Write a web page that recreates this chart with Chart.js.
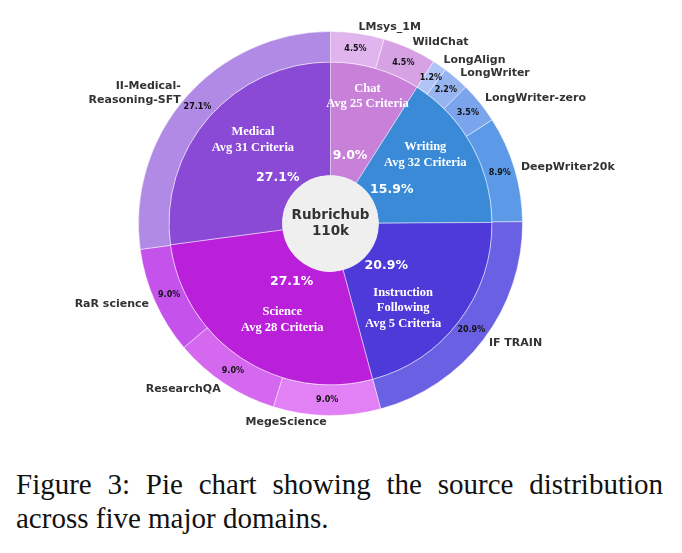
<!DOCTYPE html>
<html>
<head>
<meta charset="utf-8">
<script src="https://cdn.jsdelivr.net/npm/chart.js@4"></script>
<style>
  body { margin: 0; background: #fff; width: 682px; height: 553px; overflow: hidden; position: relative; }
  #chart { position: absolute; left: 0; top: 0; }
  #caption {
    position: absolute; left: 16px; top: 467px; width: 647px;
    font-family: "Liberation Serif", "Times New Roman", serif;
    font-size: 29px; line-height: 34px; color: #111;
  }
  #caption .l1 { display: block; text-align: justify; text-align-last: justify; white-space: nowrap; }
  #caption .l2 { display: block; }
</style>
</head>
<body>
<canvas id="chart" width="682" height="460"></canvas>
<div id="caption"><span class="l1">Figure 3: Pie chart showing the source distribution</span><span class="l2">across five major domains.</span></div>
<script>
// inner ring: domains (clockwise from 12 o'clock)
const domains = ['Chat', 'Writing', 'Instruction Following', 'Science', 'Medical'];
const domainShares = [9.0, 15.9, 20.9, 27.1, 27.1];
const domainCriteria = [25, 32, 5, 28, 31];
const domainColors = ['#c880d8', '#3a8ad8', '#4e3ad8', '#ba20da', '#8a4ad6'];

// outer ring: data sources
const sources = ['LMsys_1M', 'WildChat', 'LongAlign', 'LongWriter', 'LongWriter-zero', 'DeepWriter20k',
  'IF TRAIN', 'MegeScience', 'ResearchQA', 'RaR science', 'II-Medical-Reasoning-SFT'];
const sourceShares = [4.5, 4.5, 1.2, 2.2, 3.5, 8.9, 20.9, 9.0, 9.0, 9.0, 27.1];
const sourceColors = ['#e0b4ec', '#d6a2e4', '#b0c4f6', '#96b4f0', '#7aa4ec', '#5c9ae8',
  '#6a60e4', '#e280f5', '#d468ee', '#c652ec', '#b08ae4'];

const totalLabel = ['Rubrichub', '110k'];

// how the source names wrap
function sourceLines(name) {
  return name === 'II-Medical-Reasoning-SFT' ? ['II-Medical-', 'Reasoning-SFT'] : [name];
}
// how the domain titles wrap
function domainLines(name, crit) {
  const title = name === 'Instruction Following' ? ['Instruction', 'Following'] : [name];
  return title.concat(['Avg ' + crit + ' Criteria']);
}
// nudge for domain titles: [angle shift in degrees, radius as fraction of outer radius]
const domainTitleNudge = [[0, 0.69], [-7, 0.61], [12, 0.58], [-7, 0.56], [6, 0.595]];

const labelPlugin = {
  id: 'labels',
  afterDatasetsDraw(chart) {
    const ctx = chart.ctx;
    const outer = chart.getDatasetMeta(0);
    const inner = chart.getDatasetMeta(1);
    const cx = inner.data[0].x, cy = inner.data[0].y;
    const R = outer.data[0].outerRadius;
    const hole = inner.data[0].innerRadius;

    ctx.save();
    // centre disc
    ctx.beginPath();
    ctx.arc(cx, cy, hole, 0, Math.PI * 2);
    ctx.fillStyle = '#efefef';
    ctx.fill();

    ctx.fillStyle = '#333';
    ctx.font = 'bold 13.5px "DejaVu Sans"';
    ctx.textAlign = 'center';
    ctx.textBaseline = 'middle';
    ctx.fillText(totalLabel[0], cx, cy - 8);
    ctx.fillText(totalLabel[1], cx, cy + 8);

    // inner ring labels
    inner.data.forEach((arc, i) => {
      const mid = (arc.startAngle + arc.endAngle) / 2;
      ctx.fillStyle = '#fff';
      ctx.font = 'bold 12.5px "DejaVu Sans"';
      ctx.textAlign = 'center';
      ctx.fillText(domainShares[i].toFixed(1) + '%', cx + 0.365 * R * Math.cos(mid), cy + 0.365 * R * Math.sin(mid));

      const a = mid + domainTitleNudge[i][0] * Math.PI / 180;
      const r = domainTitleNudge[i][1] * R;
      const lines = domainLines(domains[i], domainCriteria[i]);
      const lh = 15.5;
      const x = cx + r * Math.cos(a), y0 = cy + r * Math.sin(a) - (lines.length - 1) * lh / 2;
      ctx.font = 'bold 12.5px "Liberation Serif"';
      lines.forEach((t, k) => ctx.fillText(t, x, y0 + k * lh));
    });

    // outer ring labels
    outer.data.forEach((arc, i) => {
      const mid = (arc.startAngle + arc.endAngle) / 2;
      const c = Math.cos(mid), s = Math.sin(mid);
      ctx.fillStyle = '#111';
      ctx.font = 'bold 8px "DejaVu Sans"';
      ctx.textAlign = 'center';
      ctx.fillText(sourceShares[i].toFixed(1) + '%', cx + 0.92 * R * c, cy + 0.92 * R * s);

      const lines = sourceLines(sources[i]);
      const lh = 14;
      const x = cx + 1.035 * R * c, y0 = cy + 1.035 * R * s - (lines.length - 1) * lh / 2;
      ctx.fillStyle = '#333';
      ctx.font = 'bold 11px "DejaVu Sans"';
      ctx.textAlign = c >= 0 ? 'left' : 'right';
      lines.forEach((t, k) => ctx.fillText(t, x, y0 + k * lh));
    });
    ctx.restore();
  }
};

new Chart(document.getElementById('chart').getContext('2d'), {
  type: 'doughnut',
  data: {
    labels: sources,
    datasets: [
      {
        data: sourceShares,
        backgroundColor: sourceColors,
        borderColor: 'rgba(255,255,255,0.45)',
        borderWidth: 1,
        weight: 30.5
      },
      {
        data: domainShares,
        backgroundColor: domainColors,
        borderColor: 'rgba(255,255,255,0.45)',
        borderWidth: 1,
        weight: 113.5
      }
    ]
  },
  options: {
    responsive: false,
    animation: false,
    cutout: '25%',
    layout: { padding: { left: 138, right: 159, top: 31, bottom: 44 } },
    plugins: {
      legend: { display: false },
      tooltip: { enabled: false }
    }
  },
  plugins: [labelPlugin]
});
</script>
</body>
</html>
